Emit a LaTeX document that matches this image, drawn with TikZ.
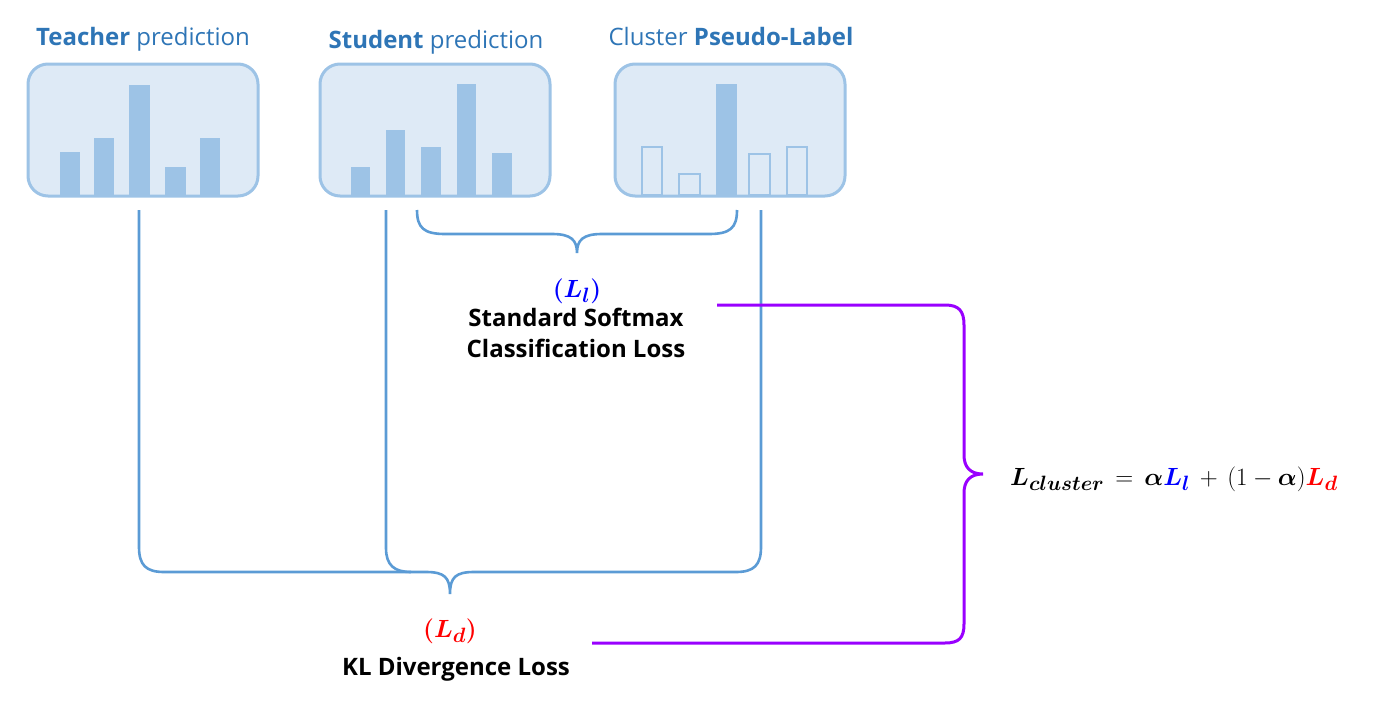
\documentclass[tikz,border=0pt]{standalone}
\usepackage{amsmath,bm}
\usepackage{fontspec}
\setmainfont{Open Sans}
\definecolor{boxfill}{RGB}{222,234,246}
\definecolor{boxline}{RGB}{157,195,230}
\definecolor{titleblue}{RGB}{46,117,182}
\definecolor{brace}{RGB}{91,155,213}
\definecolor{purp}{RGB}{153,0,255}
\begin{document}
\begin{tikzpicture}[x=1pt,y=-1pt,
  predbox/.style={draw=boxline,fill=boxfill,line width=3pt,rounded corners=20pt,minimum width=230pt,minimum height=132pt,inner sep=0pt},
  bar/.style={fill=boxline,draw=none},
  hollowbar/.style={draw=boxline,line width=2pt,fill=none},
  title/.style={text=titleblue,font=\fontsize{24}{28}\selectfont,inner sep=0pt,anchor=base},
  label/.style={font=\fontsize{24}{28}\selectfont\bfseries,inner sep=0pt,anchor=base},
  mathlbl/.style={font=\fontsize{30}{35}\selectfont,inner sep=0pt,anchor=base},
  bline/.style={draw=brace,line width=2.6pt},
  pline/.style={draw=purp,line width=3pt}]
\useasboundingbox (0,0) rectangle (1381,704);

% boxes
\node[predbox] (tbox) at (143,130) {};
\node[predbox] (sbox) at (435,130) {};
\node[predbox] (cbox) at (730,130) {};

% titles
\node[title] (ttitle) at (143,45) {\textbf{Teacher} prediction};
\node[title] (stitle) at (436,48) {\textbf{Student} prediction};
\node[title] (ctitle) at (731,45) {Cluster \textbf{Pseudo-Label}};

% teacher bars
\fill[bar] (60,152) rectangle (80,195);
\fill[bar] (94,138) rectangle (114,195);
\fill[bar] (129,85) rectangle (150,195);
\fill[bar] (165,167) rectangle (186,195);
\fill[bar] (200,138) rectangle (220,195);
% student bars
\fill[bar] (351,167) rectangle (370,195);
\fill[bar] (386,130) rectangle (405,195);
\fill[bar] (421,147) rectangle (441,195);
\fill[bar] (457,84) rectangle (476,195);
\fill[bar] (492,153) rectangle (512,195);
% cluster bars
\draw[hollowbar] (642,147) rectangle (662,195);
\draw[hollowbar] (679,174) rectangle (700,195);
\fill[bar] (716,84) rectangle (737,195);
\draw[hollowbar] (749,154) rectangle (770,195);
\draw[hollowbar] (787,147) rectangle (807,195);

% coordinates
\coordinate (tl) at (139,210);
\coordinate (sl) at (386,210);
\coordinate (cl) at (761,210);
\coordinate (ul) at (417,210);
\coordinate (ur) at (737,210);
\coordinate (utip) at (577,253);
\coordinate (dtip) at (450,594);
\coordinate (ptip) at (983,474);
\coordinate (pl1) at (717,305);
\coordinate (pl2) at (592,643);

% upper brace (L_l)
\draw[bline] (ul) .. controls (417,228) and (424,234) .. (445,234) -- (552,234)
  .. controls (571,234) and (577,240) .. (utip)
  .. controls (577,240) and (583,234) .. (602,234) -- (709,234)
  .. controls (730,234) and (737,228) .. (ur);

% lower brace (L_d)
\draw[bline] (tl) -- (139,547) .. controls (139,565) and (146,572) .. (164,572) -- (426,572)
  .. controls (444,572) and (450,577) .. (dtip)
  .. controls (450,577) and (456,572) .. (474,572) -- (736,572)
  .. controls (754,572) and (761,565) .. (761,547) -- (cl);
\draw[bline] (sl) -- (386,548) .. controls (386,565) and (394,572) .. (411,572);

% labels
\node[mathlbl,text=blue] (ll) at (577,297) {$\bm{(L_l)}$};
\node[label] (ssm) at (576,326) {Standard Softmax};
\node[label] (cls) at (576,357) {Classification Loss};
\node[mathlbl,text=red] (ld) at (450,637) {$\bm{(L_d)}$};
\node[label] (kl) at (456,675) {KL Divergence Loss};

% purple brace
\draw[pline] (pl1) -- (945,305) .. controls (959,305) and (964,311) .. (964,325) -- (964,455)
  .. controls (964,467) and (970,474) .. (ptip)
  .. controls (970,474) and (964,481) .. (964,493) -- (964,624)
  .. controls (964,638) and (959,643) .. (945,643) -- (pl2);

% formula
\node[mathlbl,anchor=base west] (form) at (1010,485)
  {$\bm{L_{cluster}} \,=\, \bm{\alpha}{\color{blue}\bm{L_l}} \,+\, (1-\bm{\alpha}){\color{red}\bm{L_d}}$};
\end{tikzpicture}
\end{document}
